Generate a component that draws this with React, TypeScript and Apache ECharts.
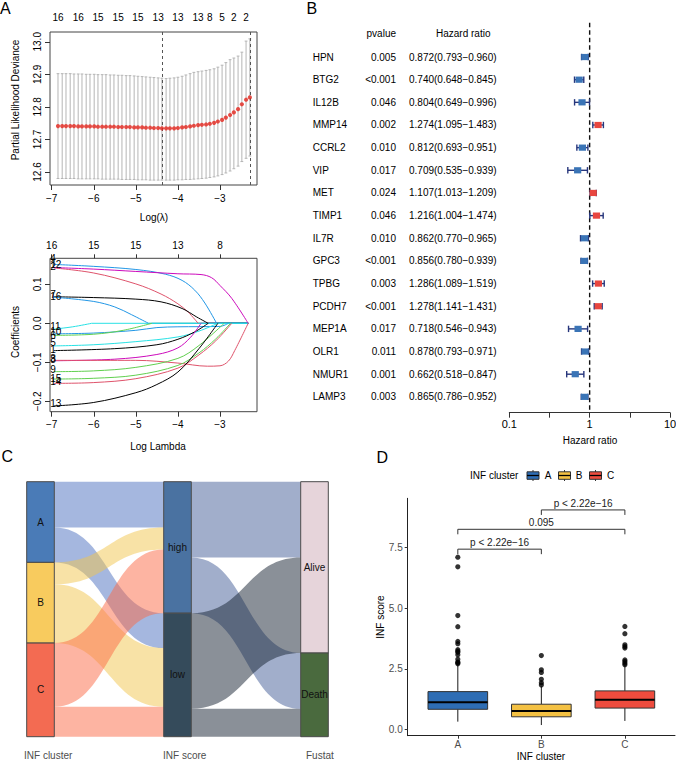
import { useEffect, useRef } from 'react';
import * as echarts from 'echarts';

const FONT = '"Liberation Sans", Arial, Helvetica, sans-serif';

// ---------------- Panel A (top): cross-validation curve ----------------
const cvLogLambda = [
  -6.85, -6.75, -6.66, -6.56, -6.47, -6.37, -6.28, -6.18, -6.09, -5.99,
  -5.9, -5.8, -5.71, -5.61, -5.52, -5.42, -5.33, -5.23, -5.14, -5.04,
  -4.95, -4.85, -4.76, -4.66, -4.57, -4.47, -4.38, -4.28, -4.19, -4.09,
  -4.0, -3.9, -3.81, -3.71, -3.62, -3.52, -3.43, -3.33, -3.24, -3.14,
  -3.05, -2.95, -2.86, -2.76, -2.67, -2.57, -2.48, -2.38, -2.29,
];
const cvMean = [
  12.741, 12.741, 12.741, 12.741, 12.741, 12.74, 12.74, 12.74, 12.74, 12.74,
  12.739, 12.739, 12.739, 12.739, 12.739, 12.738, 12.738, 12.738, 12.738, 12.737,
  12.737, 12.737, 12.736, 12.736, 12.735, 12.735, 12.734, 12.734, 12.734, 12.734,
  12.735, 12.737, 12.738, 12.74, 12.742, 12.744, 12.745, 12.746, 12.748, 12.751,
  12.755, 12.76, 12.767, 12.775, 12.783, 12.793, 12.808, 12.822, 12.829,
];
const cvUpper = [
  12.902, 12.902, 12.902, 12.902, 12.901, 12.901, 12.901, 12.9, 12.9, 12.9,
  12.899, 12.899, 12.899, 12.898, 12.898, 12.897, 12.897, 12.896, 12.896, 12.895,
  12.894, 12.893, 12.892, 12.891, 12.89, 12.889, 12.888, 12.887, 12.888, 12.889,
  12.891, 12.894, 12.898, 12.902, 12.906, 12.908, 12.91, 12.912, 12.914, 12.917,
  12.922, 12.928, 12.936, 12.945, 12.95, 12.956, 12.968, 13.002, 13.009,
];
const cvLower = [
  12.58, 12.58, 12.58, 12.58, 12.58, 12.579, 12.579, 12.579, 12.579, 12.579,
  12.579, 12.578, 12.578, 12.578, 12.578, 12.578, 12.577, 12.577, 12.577, 12.577,
  12.576, 12.576, 12.576, 12.575, 12.575, 12.575, 12.575, 12.575, 12.575, 12.575,
  12.576, 12.576, 12.577, 12.577, 12.578, 12.579, 12.58, 12.581, 12.583, 12.585,
  12.588, 12.592, 12.597, 12.603, 12.61, 12.618, 12.632, 12.642, 12.649,
];
const cvNzeroLambda = [-6.85, -6.37, -5.9, -5.42, -4.95, -4.47, -4.0, -3.52, -3.24, -2.95, -2.67, -2.38];
const cvNzero = [16, 16, 15, 15, 15, 13, 13, 13, 8, 5, 2, 2];
const lambdaMin = -4.38;
const lambda1se = -2.29;
const cvYTicks = [12.6, 12.7, 12.8, 12.9, 13.0];
const lambdaTicks = [-7, -6, -5, -4, -3];

// ---------------- Panel A (bottom): coefficient paths ----------------
const pathIds = ['12', '2', '4', '7', '16', '11', '10', '6', '5', '1', '8', '3', '9', '15', '14', '13'];
const pathColors = [
  '#2297E6', '#DF536B', '#CD0BBC', '#000000', '#2297E6', '#28E2E5', '#2297E6', '#61D04F',
  '#28E2E5', '#000000', '#CD0BBC', '#DF536B', '#61D04F', '#61D04F', '#DF536B', '#000000',
];
const pathLabelCoef = [0.151, 0.145, 0.167, 0.073, 0.068, -0.009, -0.022, -0.03, -0.05, -0.068, -0.094, -0.09, -0.118, -0.141, -0.15, -0.205];
const coefPaths = [
  [[-6.95, 0.151], [-6, 0.146], [-5, 0.138], [-4.3, 0.126], [-3.9, 0.11], [-3.6, 0.085], [-3.36, 0.052], [-3.08, 0], [-2.33, 0]],
  [[-6.95, 0.142], [-6, 0.129], [-5, 0.101], [-4.4, 0.075], [-4, 0.05], [-3.75, 0.028], [-3.52, 0], [-2.33, 0]],
  [[-6.95, 0.143], [-6, 0.139], [-5, 0.133], [-4, 0.127], [-3.45, 0.125], [-3.2, 0.117], [-3.0, 0.097], [-2.72, 0.064], [-2.33, 0]],
  [[-6.95, 0.068], [-6, 0.066], [-5, 0.062], [-4.4, 0.055], [-3.9, 0.038], [-3.55, 0.016], [-3.28, 0], [-2.33, 0]],
  [[-6.95, 0.067], [-6, 0.056], [-5.5, 0.042], [-5.1, 0.022], [-4.7, 0], [-2.33, 0]],
  [[-6.95, -0.015], [-6.5, -0.009], [-6.05, 0], [-2.33, 0]],
  [[-6.95, -0.027], [-6, -0.025], [-5, -0.018], [-4.5, -0.011], [-4, -0.009], [-3.0, -0.008], [-2.8, 0], [-2.33, 0]],
  [[-6.95, -0.031], [-6, -0.028], [-5.3, -0.018], [-4.62, 0], [-2.33, 0]],
  [[-6.95, -0.058], [-6, -0.055], [-5, -0.047], [-4, -0.035], [-3.5, -0.02], [-3.05, 0], [-2.33, 0]],
  [[-6.95, -0.07], [-5.5, -0.065], [-4.5, -0.055], [-4, -0.041], [-3.6, -0.022], [-3.28, 0], [-2.33, 0]],
  [[-6.95, -0.096], [-5.5, -0.092], [-4.5, -0.08], [-4, -0.063], [-3.7, -0.036], [-3.45, 0], [-2.33, 0]],
  [[-6.95, -0.095], [-5, -0.095], [-4, -0.102], [-3.3, -0.11], [-3.0, -0.109], [-2.8, -0.097], [-2.65, -0.07], [-2.33, 0]],
  [[-6.95, -0.124], [-6, -0.122], [-5, -0.113], [-4, -0.09], [-3.5, -0.057], [-2.9, 0], [-2.33, 0]],
  [[-6.95, -0.143], [-6, -0.141], [-5, -0.133], [-4, -0.108], [-3.5, -0.076], [-3.1, -0.04], [-2.75, 0], [-2.33, 0]],
  [[-6.95, -0.154], [-6, -0.152], [-5, -0.142], [-4, -0.115], [-3.5, -0.081], [-3.1, -0.045], [-2.72, 0], [-2.33, 0]],
  [[-6.95, -0.212], [-6, -0.203], [-5, -0.178], [-4.5, -0.157], [-4, -0.125], [-3.5, -0.065], [-3.05, 0], [-2.33, 0]],
];
const coefYTicks = [-0.2, -0.1, 0, 0.1];
const coefTopLabels = ['16', '15', '15', '13', '8'];

// ---------------- Panel B: forest plot ----------------
const genes = ['HPN', 'BTG2', 'IL12B', 'MMP14', 'CCRL2', 'VIP', 'MET', 'TIMP1', 'IL7R', 'GPC3', 'TPBG', 'PCDH7', 'MEP1A', 'OLR1', 'NMUR1', 'LAMP3'];
const pvalues = ['0.005', '<0.001', '0.046', '0.002', '0.010', '0.017', '0.024', '0.046', '0.010', '<0.001', '0.003', '<0.001', '0.017', '0.011', '0.001', '0.003'];
const hazard = [0.872, 0.74, 0.804, 1.274, 0.812, 0.709, 1.107, 1.216, 0.862, 0.856, 1.286, 1.278, 0.718, 0.878, 0.662, 0.865];
const hrLow = [0.793, 0.648, 0.649, 1.095, 0.693, 0.535, 1.013, 1.004, 0.77, 0.78, 1.089, 1.141, 0.546, 0.793, 0.518, 0.786];
const hrHigh = [0.96, 0.845, 0.996, 1.483, 0.951, 0.939, 1.209, 1.474, 0.965, 0.939, 1.519, 1.431, 0.943, 0.971, 0.847, 0.952];
const hrTickLabels: Record<string, string> = { '-1': '0.1', '0': '1', '1': '10' };

// ---------------- Panel C: sankey ----------------
const sankeyNodes = ['A', 'B', 'C', 'high', 'low', 'Alive', 'Death'];
const sankeyNodeColors = ['#4a7bb7', '#f8cb5e', '#f36b52', '#4a72a1', '#354b5b', '#e6d4da', '#4a6a3e'];
const linkSource = ['A', 'A', 'B', 'B', 'C', 'C', 'high', 'high', 'low', 'low'];
const linkTarget = ['high', 'low', 'high', 'low', 'high', 'low', 'Alive', 'Death', 'Alive', 'Death'];
const linkValue = [46, 35, 22, 59, 64, 30, 76, 56, 96, 28];
const linkColorBySource: Record<string, string> = {
  A: '#4b6fbf', B: '#f1c54d', C: '#fb6945', high: '#435d97', low: '#152131',
};
const sankeyColumns = ['INF cluster', 'INF score', 'Fustat'];

// ---------------- Panel D: boxplot ----------------
const clusters = ['A', 'B', 'C'];
const clusterColors = ['#2e6db4', '#f4c143', '#ee4c3e'];
const boxStats = [
  [0.32, 0.83, 1.12, 1.56, 2.65],
  [0.18, 0.52, 0.76, 1.04, 1.78],
  [0.35, 0.88, 1.22, 1.59, 2.62],
];
const outliersA = [2.71, 2.75, 2.78, 2.9, 3.08, 3.18, 3.23, 3.29, 3.54, 3.63, 4.24, 4.7, 6.71, 7.11];
const outliersB = [1.83, 1.93, 2.07, 2.35, 2.46, 3.05];
const outliersC = [2.67, 2.73, 2.8, 2.87, 3.36, 3.42, 3.49, 3.95, 4.25];
const scoreTicks = [0, 2.5, 5, 7.5];
const bracketPairs = [[1, 2], [1, 3], [2, 3]];
const bracketY = [7.44, 8.26, 9.06];
const bracketLabels = ['p < 2.22e\u221216', '0.095', 'p < 2.22e\u221216'];

const minus = (s: string) => s.replace('-', '\u2212');

function txt(text: string, x: number, y: number, o: any = {}) {
  return {
    type: 'text',
    x,
    y,
    rotation: o.rotation || 0,
    silent: true,
    style: {
      text,
      fill: o.fill || '#000',
      fontSize: o.fontSize || 10,
      fontFamily: FONT,
      align: o.align || 'center',
      verticalAlign: 'middle',
    },
  };
}

function buildOption() {
  const rAxisLabel = { fontSize: 10, color: '#000', fontFamily: FONT };

  const outlierData: number[][] = [];
  outliersA.forEach((v) => outlierData.push([1, v]));
  outliersB.forEach((v) => outlierData.push([2, v]));
  outliersC.forEach((v) => outlierData.push([3, v]));

  const series: any[] = [];

  // A top: error bars
  series.push({
    type: 'custom',
    xAxisIndex: 0,
    yAxisIndex: 0,
    clip: false,
    silent: true,
    data: cvLogLambda.map((l, i) => [l, cvLower[i], cvUpper[i]]),
    encode: { x: 0, y: [1, 2] },
    renderItem: (params: any, api: any) => {
      const x = api.value(0);
      const lo = api.coord([x, api.value(1)]);
      const hi = api.coord([x, api.value(2)]);
      const cw = 1.4;
      const st = { stroke: '#b5b5b5', lineWidth: 1 };
      return {
        type: 'group',
        children: [
          { type: 'line', shape: { x1: lo[0], y1: lo[1], x2: hi[0], y2: hi[1] }, style: st },
          { type: 'line', shape: { x1: lo[0] - cw, y1: lo[1], x2: lo[0] + cw, y2: lo[1] }, style: st },
          { type: 'line', shape: { x1: hi[0] - cw, y1: hi[1], x2: hi[0] + cw, y2: hi[1] }, style: st },
        ],
      };
    },
  });
  series.push({
    type: 'scatter',
    xAxisIndex: 0,
    yAxisIndex: 0,
    silent: true,
    symbolSize: 4.2,
    itemStyle: { color: '#e3261d' },
    data: cvLogLambda.map((l, i) => [l, cvMean[i]]),
    z: 5,
    markLine: {
      silent: true,
      symbol: 'none',
      label: { show: false },
      lineStyle: { type: [3, 3], color: '#555', width: 1 },
      data: [{ xAxis: lambdaMin }, { xAxis: lambda1se }],
    },
  });
  series.push({
    type: 'custom',
    xAxisIndex: 0,
    yAxisIndex: 0,
    clip: false,
    silent: true,
    data: cvNzeroLambda.map((l, i) => [l, cvNzero[i]]),
    encode: { x: 0 },
    renderItem: (params: any, api: any) => {
      const p = api.coord([api.value(0), 13.03]);
      return {
        type: 'text',
        x: p[0],
        y: p[1] - 15,
        style: { text: String(cvNzero[params.dataIndex]), fontSize: 10, fontFamily: FONT, fill: '#000', align: 'center', verticalAlign: 'middle' },
      };
    },
  });

  // A bottom: coefficient paths (curved part until the coefficient reaches 0, then a straight zero tail)
  const tails: any[] = [];
  coefPaths.forEach((pts, i) => {
    const zi = pts.findIndex((p) => p[1] === 0);
    const curve = pts.slice(0, zi + 1);
    const tail = pts.slice(zi);
    series.push({
      type: 'line',
      xAxisIndex: 1,
      yAxisIndex: 1,
      silent: true,
      data: curve,
      symbol: 'none',
      showSymbol: false,
      smooth: 0.35,
      lineStyle: { width: 1, color: pathColors[i] },
      z: 3,
    });
    const blueish = pathColors[i] === '#2297E6' || pathColors[i] === '#28E2E5';
    tails.push({
      type: 'line',
      xAxisIndex: 1,
      yAxisIndex: 1,
      silent: true,
      data: tail,
      symbol: 'none',
      showSymbol: false,
      lineStyle: { width: 1, color: pathColors[i] },
      z: blueish ? 2 : 1,
    });
  });
  series.push(...tails);
  series.push({
    type: 'custom',
    xAxisIndex: 1,
    yAxisIndex: 1,
    clip: false,
    silent: true,
    data: pathIds.map((id, i) => [-6.95, pathLabelCoef[i]]),
    encode: { x: 0, y: 1 },
    z: 6,
    renderItem: (params: any, api: any) => {
      const p = api.coord([api.value(0), api.value(1)]);
      return {
        type: 'text',
        x: p[0] - 3.5,
        y: p[1],
        style: { text: pathIds[params.dataIndex], fontSize: 10, fontFamily: FONT, fill: '#000', align: 'left', verticalAlign: 'middle' },
      };
    },
  });

  // B forest
  series.push({
    type: 'custom',
    xAxisIndex: 3,
    yAxisIndex: 2,
    clip: false,
    silent: true,
    data: [[0, 0]],
    encode: { x: 0, y: 1 },
    renderItem: (params: any, api: any) => {
      const a = api.coord([0, -1.515]);
      const b = api.coord([0, 15.7]);
      return {
        type: 'line',
        shape: { x1: a[0], y1: a[1], x2: b[0], y2: b[1] },
        style: { stroke: '#111', lineWidth: 1.4, lineDash: [4.5, 3] },
      };
    },
  });
  series.push({
    type: 'custom',
    xAxisIndex: 3,
    yAxisIndex: 2,
    clip: false,
    silent: true,
    data: genes.map((g, i) => [Math.log10(hazard[i]), i, Math.log10(hrLow[i]), Math.log10(hrHigh[i])]),
    encode: { x: [0, 2, 3], y: 1 },
    z: 4,
    renderItem: (params: any, api: any) => {
      const i = params.dataIndex;
      const c = api.coord([api.value(0), api.value(1)]);
      const l = api.coord([api.value(2), api.value(1)]);
      const h = api.coord([api.value(3), api.value(1)]);
      const y = c[1];
      const navy = '#27367c';
      const col = hazard[i] < 1 ? '#3a74b6' : '#e8463f';
      const ts = (text: string, x: number, align: string) => ({
        type: 'text',
        x,
        y,
        style: { text, fontSize: 10, fontFamily: FONT, fill: '#000', align, verticalAlign: 'middle' },
      });
      const ls = { stroke: navy, lineWidth: 1.4 };
      return {
        type: 'group',
        children: [
          ts(genes[i], 312.7, 'left'),
          ts(pvalues[i], 396, 'right'),
          ts(`${hazard[i].toFixed(3)}(${hrLow[i].toFixed(3)}\u2212${hrHigh[i].toFixed(3)})`, 409, 'left'),
          { type: 'line', shape: { x1: l[0], y1: y, x2: h[0], y2: y }, style: ls },
          { type: 'line', shape: { x1: l[0], y1: y - 3.2, x2: l[0], y2: y + 3.2 }, style: ls },
          { type: 'line', shape: { x1: h[0], y1: y - 3.2, x2: h[0], y2: y + 3.2 }, style: ls },
          { type: 'rect', shape: { x: c[0] - 3.6, y: y - 3.1, width: 7.2, height: 6.2 }, style: { fill: col } },
        ],
      };
    },
  });

  // C sankey
  series.push({
    type: 'sankey',
    left: 26.7,
    top: 481.7,
    width: 301.6,
    height: 255,
    nodeWidth: 27.6,
    nodeGap: 0,
    layoutIterations: 0,
    nodeAlign: 'justify',
    draggable: false,
    silent: true,
    emphasis: { disabled: true },
    label: { show: true, position: 'inside', fontSize: 10, color: '#111', fontFamily: FONT },
    data: sankeyNodes.map((n, i) => ({
      name: n,
      itemStyle: { color: sankeyNodeColors[i], borderColor: '#4a4a4a', borderWidth: 1 },
    })),
    links: linkSource.map((s, i) => ({
      source: s,
      target: linkTarget[i],
      value: linkValue[i],
      lineStyle: { color: linkColorBySource[s], opacity: 0.5, curveness: 0.5 },
    })),
  });

  // D boxplot
  series.push({
    type: 'custom',
    xAxisIndex: 4,
    yAxisIndex: 3,
    silent: true,
    clip: false,
    data: boxStats.map((s, i) => [i + 1, ...s]),
    encode: { x: 0, y: [1, 2, 3, 4, 5] },
    renderItem: (params: any, api: any) => {
      const i = params.dataIndex;
      const x = api.value(0);
      const w = api.size([0.714, 0])[0];
      const pLow = api.coord([x, api.value(1)]);
      const pQ1 = api.coord([x, api.value(2)]);
      const pMed = api.coord([x, api.value(3)]);
      const pQ3 = api.coord([x, api.value(4)]);
      const pHigh = api.coord([x, api.value(5)]);
      const ws = { stroke: '#1a1a1a', lineWidth: 1 };
      return {
        type: 'group',
        children: [
          { type: 'line', shape: { x1: pLow[0], y1: pLow[1], x2: pQ1[0], y2: pQ1[1] }, style: ws },
          { type: 'line', shape: { x1: pQ3[0], y1: pQ3[1], x2: pHigh[0], y2: pHigh[1] }, style: ws },
          {
            type: 'rect',
            shape: { x: pQ1[0] - w / 2, y: pQ3[1], width: w, height: pQ1[1] - pQ3[1] },
            style: { fill: clusterColors[i], stroke: '#333', lineWidth: 1 },
          },
          { type: 'line', shape: { x1: pMed[0] - w / 2, y1: pMed[1], x2: pMed[0] + w / 2, y2: pMed[1] }, style: { stroke: '#000', lineWidth: 2 } },
        ],
      };
    },
  });
  series.push({
    type: 'scatter',
    xAxisIndex: 4,
    yAxisIndex: 3,
    silent: true,
    symbolSize: 5.2,
    itemStyle: { color: '#000' },
    data: outlierData,
    z: 5,
  });
  series.push({
    type: 'custom',
    xAxisIndex: 4,
    yAxisIndex: 3,
    silent: true,
    clip: false,
    data: bracketPairs.map((p, i) => [p[0], p[1], bracketY[i]]),
    encode: { x: [0, 1], y: 2 },
    renderItem: (params: any, api: any) => {
      const i = params.dataIndex;
      const a = api.coord([api.value(0), api.value(2)]);
      const b = api.coord([api.value(1), api.value(2)]);
      const drop = 5;
      return {
        type: 'group',
        children: [
          {
            type: 'polyline',
            shape: { points: [[a[0], a[1] + drop], [a[0], a[1]], [b[0], b[1]], [b[0], b[1] + drop]] },
            style: { stroke: '#333', lineWidth: 1, fill: null },
          },
          {
            type: 'text',
            x: (a[0] + b[0]) / 2,
            y: a[1] - 6.5,
            style: { text: bracketLabels[i], fontSize: 10, fontFamily: FONT, fill: '#222', align: 'center', verticalAlign: 'middle' },
          },
        ],
      };
    },
  });

  // legend for D
  const legendChildren: any[] = [txt('INF cluster', 470, 475.5, { align: 'left' })];
  const iconX = [527, 558.5, 589.5];
  const labX = [548, 579, 610.5];
  clusters.forEach((c, i) => {
    const x0 = iconX[i];
    legendChildren.push(
      { type: 'line', silent: true, shape: { x1: x0 + 6, y1: 470, x2: x0 + 6, y2: 481 }, style: { stroke: '#333', lineWidth: 1 } },
      { type: 'rect', silent: true, shape: { x: x0, y: 471.8, width: 12, height: 7.5 }, style: { fill: clusterColors[i], stroke: '#333', lineWidth: 1 } },
      { type: 'line', silent: true, shape: { x1: x0, y1: 475.5, x2: x0 + 12, y2: 475.5 }, style: { stroke: '#000', lineWidth: 1.3 } },
      txt(c, labX[i], 475.5)
    );
  });

  const graphic: any[] = [
    txt('A', 0, 8, { fontSize: 16, align: 'left' }),
    txt('B', 306.5, 8.5, { fontSize: 16, align: 'left' }),
    txt('C', 1.5, 456, { fontSize: 16, align: 'left' }),
    txt('D', 376.5, 457, { fontSize: 16, align: 'left' }),
    txt('Partial Likelihood Deviance', 15, 100, { rotation: Math.PI / 2 }),
    txt('Log(\u03bb)', 154, 217.5),
    txt('Coefficients', 15, 332, { rotation: Math.PI / 2 }),
    txt('Log Lambda', 158, 446),
    txt('pvalue', 396, 33, { align: 'right' }),
    txt('Hazard ratio', 436, 33, { align: 'left' }),
    txt('Hazard ratio', 590, 440),
    txt(sankeyColumns[0], 24, 755, { align: 'left', fill: '#4d4d4d' }),
    txt(sankeyColumns[1], 163, 755, { align: 'left', fill: '#4d4d4d' }),
    txt(sankeyColumns[2], 306, 755, { align: 'left', fill: '#4d4d4d' }),
    txt('INF score', 380, 617, { rotation: Math.PI / 2 }),
    txt('INF cluster', 541, 756.5),
    ...legendChildren,
  ];

  const noSplit = { show: false };

  return {
    animation: false,
    backgroundColor: '#fff',
    textStyle: { fontFamily: FONT },
    grid: [
      { left: 50, top: 32, width: 207, height: 153, show: true, borderColor: '#444', borderWidth: 1, backgroundColor: 'transparent', outerBoundsMode: 'none' },
      { left: 50, top: 258.3, width: 207, height: 153.4, show: true, borderColor: '#444', borderWidth: 1, backgroundColor: 'transparent', outerBoundsMode: 'none' },
      { left: 509.3, top: 45.7, width: 160.7, height: 367, show: false, outerBoundsMode: 'none' },
      { left: 407.7, top: 498.3, width: 267.3, height: 237.4, show: false, outerBoundsMode: 'none' },
    ],
    xAxis: [
      {
        gridIndex: 0, type: 'value', min: -7.04, max: -2.12,
        axisLine: { show: false, onZero: false }, splitLine: noSplit,
        axisTick: { show: true, customValues: lambdaTicks, length: 5, lineStyle: { color: '#333' } },
        axisLabel: { ...rAxisLabel, customValues: lambdaTicks, margin: 8, formatter: (v: number) => minus(String(v)) },
      },
      {
        gridIndex: 1, type: 'value', min: -7.04, max: -2.12,
        axisLine: { show: false, onZero: false }, splitLine: noSplit,
        axisTick: { show: true, customValues: lambdaTicks, length: 5, lineStyle: { color: '#333' } },
        axisLabel: { ...rAxisLabel, customValues: lambdaTicks, margin: 8, formatter: (v: number) => minus(String(v)) },
      },
      {
        gridIndex: 1, type: 'value', position: 'top', min: -7.04, max: -2.12,
        axisLine: { show: false, onZero: false }, splitLine: noSplit,
        axisTick: { show: true, customValues: lambdaTicks, length: 4, lineStyle: { color: '#333' } },
        axisLabel: {
          ...rAxisLabel, customValues: lambdaTicks, margin: 8,
          formatter: (v: number) => coefTopLabels[lambdaTicks.indexOf(Math.round(v))] || '',
        },
      },
      {
        gridIndex: 2, type: 'value', min: -1, max: 1, interval: 0.5,
        axisLine: { show: true, onZero: false, lineStyle: { color: '#333', width: 1 } }, splitLine: noSplit,
        axisTick: { show: true, length: 5, lineStyle: { color: '#333' } },
        axisLabel: {
          ...rAxisLabel, fontSize: 11, margin: 6, showMinLabel: true, showMaxLabel: true,
          formatter: (v: number) => hrTickLabels[String(Math.round(v * 2) / 2)] || '',
        },
      },
      {
        gridIndex: 3, type: 'value', min: 0.4, max: 3.6,
        axisLine: { show: true, onZero: false, lineStyle: { color: '#222', width: 1 } }, splitLine: noSplit,
        axisTick: { show: true, customValues: [1, 2, 3], length: 3, lineStyle: { color: '#333' } },
        axisLabel: { fontSize: 10, color: '#4d4d4d', fontFamily: FONT, customValues: [1, 2, 3], margin: 4, formatter: (v: number) => clusters[Math.round(v) - 1] || '' },
      },
    ],
    yAxis: [
      {
        gridIndex: 0, type: 'value', min: 12.56, max: 13.03,
        axisLine: { show: false, onZero: false }, splitLine: noSplit,
        axisTick: { show: true, customValues: cvYTicks, length: 5, lineStyle: { color: '#333' } },
        axisLabel: { ...rAxisLabel, customValues: cvYTicks, rotate: 90, margin: 8, formatter: (v: number) => v.toFixed(1) },
      },
      {
        gridIndex: 1, type: 'value', min: -0.2267, max: 0.1667,
        axisLine: { show: false, onZero: false }, splitLine: noSplit,
        axisTick: { show: true, customValues: coefYTicks, length: 5, lineStyle: { color: '#333' } },
        axisLabel: { ...rAxisLabel, customValues: coefYTicks, rotate: 90, margin: 8, formatter: (v: number) => minus(v.toFixed(1)) },
      },
      {
        gridIndex: 2, type: 'value', min: -0.5, max: 15.7, inverse: true, show: false,
        axisLine: { onZero: false }, splitLine: noSplit,
      },
      {
        gridIndex: 3, type: 'value', min: -0.26, max: 9.54,
        axisLine: { show: true, onZero: false, lineStyle: { color: '#222', width: 1 } }, splitLine: noSplit,
        axisTick: { show: true, customValues: scoreTicks, length: 3, lineStyle: { color: '#333' } },
        axisLabel: { fontSize: 10, color: '#4d4d4d', fontFamily: FONT, customValues: scoreTicks, margin: 5, formatter: (v: number) => v.toFixed(1) },
      },
    ],
    series,
    graphic,
  };
}

export default function App() {
  const ref = useRef<HTMLDivElement>(null);
  useEffect(() => {
    const chart = echarts.init(ref.current as HTMLDivElement, null, { renderer: 'svg' });
    chart.setOption(buildOption() as any);
    return () => chart.dispose();
  }, []);
  return (
    <div
      ref={ref}
      style={{ position: 'absolute', left: 0, top: 0, width: 676, height: 761, background: '#fff' }}
    />
  );
}
